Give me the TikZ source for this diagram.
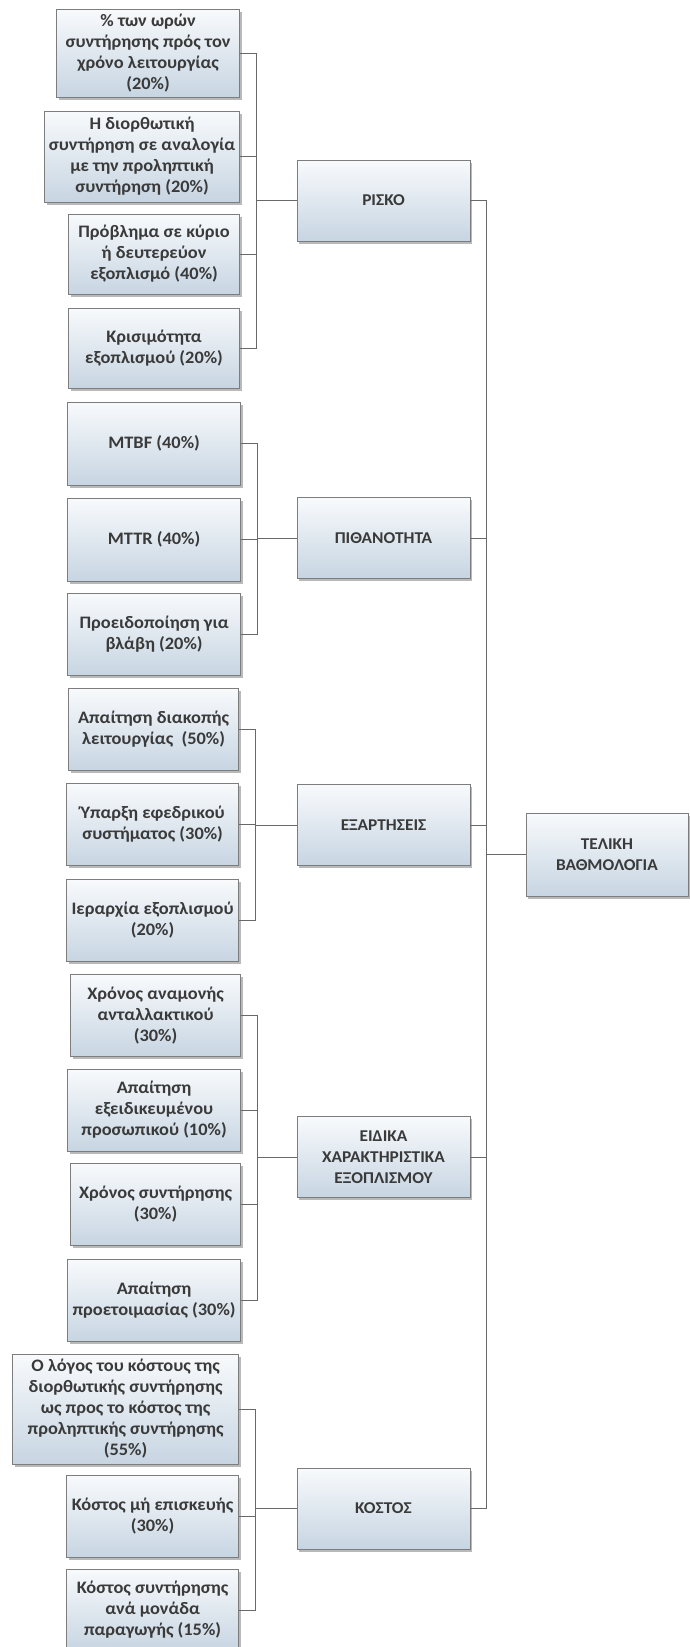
\documentclass[tikz,border=0pt]{standalone}
\usepackage{fontspec}
\setmainfont[FakeStretch=1.05]{Carlito}
\usetikzlibrary{shadows}
\definecolor{boxtop}{RGB}{248,250,252}
\definecolor{boxbot}{RGB}{199,213,226}
\definecolor{boxline}{RGB}{125,125,125}
\definecolor{wiregray}{RGB}{105,105,105}
\definecolor{ink}{RGB}{58,58,58}
\begin{document}
\begin{tikzpicture}[x=1pt, y=-1pt,
	box/.style={shape=rectangle, draw=boxline, line width=0.8pt, top color=boxtop, bottom color=boxbot,
		text=ink, align=center, inner sep=1pt, minimum height=82pt,
		font=\fontsize{17.5}{21}\selectfont\bfseries,
		drop shadow={shadow xshift=2pt, shadow yshift=-2.5pt, fill=black!50, opacity=0.55}},
	leaf/.style={box, anchor=east},
	crit/.style={box, minimum width=173pt, minimum height=81pt, font=\fontsize{16.5}{21}\selectfont\bfseries},
	link/.style={draw=wiregray, line width=0.8pt, to path={(\tikztostart.east) -- ++(16,0) |- (\tikztotarget.west)}}]
	\useasboundingbox (0,0) rectangle (689,1647);

	\node[crit]                  (risk)  at (383.5,200.5)  {ΡΙΣΚΟ};
	\node[crit]                  (prob)  at (383.5,538)    {ΠΙΘΑΝΟΤΗΤΑ};
	\node[crit]                  (dep)   at (383.5,825)    {ΕΞΑΡΤΗΣΕΙΣ};
	\node[crit]                  (spec)  at (383.5,1157)   {ΕΙΔΙΚΑ\\ΧΑΡΑΚΤΗΡΙΣΤΙΚΑ\\ΕΞΟΠΛΙΣΜΟΥ};
	\node[crit]                  (cost)  at (383.5,1508.5) {ΚΟΣΤΟΣ};
	\node[crit, minimum width=162pt, minimum height=83pt]
	                             (final) at (607,854.5)    {ΤΕΛΙΚΗ\\ΒΑΘΜΟΛΟΓΙΑ};

	% risk
	\node[leaf, minimum width=183pt, minimum height=88pt] (r1) at (240,53)    {\% των ωρών\\συντήρησης πρός τον\\χρόνο λειτουργίας\\(20\%)};
	\node[leaf, minimum width=195pt, minimum height=91pt] (r2) at (240,156.5) {Η διορθωτική\\συντήρηση σε αναλογία\\με την προληπτική\\συντήρηση (20\%)};
	\node[leaf, minimum width=171pt, minimum height=80pt] (r3) at (240,254)   {Πρόβλημα σε κύριο\\ή δευτερεύον\\εξοπλισμό (40\%)};
	\node[leaf, minimum width=171pt, minimum height=80pt] (r4) at (240,348)   {Κρισιμότητα\\εξοπλισμού (20\%)};

	% probability
	\node[leaf, minimum width=173pt, minimum height=83pt] (p1) at (241,443.5) {MTBF (40\%)};
	\node[leaf, minimum width=173pt, minimum height=83pt] (p2) at (241,539.5) {MTTR (40\%)};
	\node[leaf, minimum width=173pt, minimum height=82pt] (p3) at (241,634)   {Προειδοποίηση για\\βλάβη (20\%)};

	% dependencies
	\node[leaf, minimum width=170pt] (d1) at (239,729.5) {Απαίτηση διακοπής\\λειτουργίας~~(50\%)};
	\node[leaf, minimum width=172pt] (d2) at (239,824.5) {Ύπαρξη εφεδρικού\\συστήματος (30\%)};
	\node[leaf, minimum width=172pt] (d3) at (239,920.5) {Ιεραρχία εξοπλισμού\\(20\%)};

	% equipment
	\node[leaf, minimum width=170pt] (s1) at (241,1015.5) {Χρόνος αναμονής\\ανταλλακτικού\\(30\%)};
	\node[leaf, minimum width=173pt] (s2) at (241,1110)   {Απαίτηση\\εξειδικευμένου\\προσωπικού (10\%)};
	\node[leaf, minimum width=170pt] (s3) at (241,1204.5) {Χρόνος συντήρησης\\(30\%)};
	\node[leaf, minimum width=173pt] (s4) at (241,1300.5) {Απαίτηση\\προετοιμασίας (30\%)};

	% cost
	\node[leaf, minimum width=226pt, minimum height=110pt] (c1) at (239,1409) {Ο λόγος του κόστους της\\διορθωτικής συντήρησης\\ως προς το κόστος της\\προληπτικής συντήρησης\\(55\%)};
	\node[leaf, minimum width=172pt] (c2) at (239,1516) {Κόστος μή επισκευής\\(30\%)};
	\node[leaf, minimum width=172pt] (c3) at (239,1610) {Κόστος συντήρησης\\ανά μονάδα\\παραγωγής (15\%)};

	\foreach \a in {r1,r2,r3,r4} \path (\a) edge[link] (risk);
	\foreach \a in {p1,p2,p3} \path (\a) edge[link] (prob);
	\foreach \a in {d1,d2,d3} \path (\a) edge[link] (dep);
	\foreach \a in {s1,s2,s3,s4} \path (\a) edge[link] (spec);
	\foreach \a in {c1,c2,c3} \path (\a) edge[link] (cost);
	\foreach \a in {risk,prob,dep,spec,cost} \path (\a) edge[link] (final);
\end{tikzpicture}
\end{document}
